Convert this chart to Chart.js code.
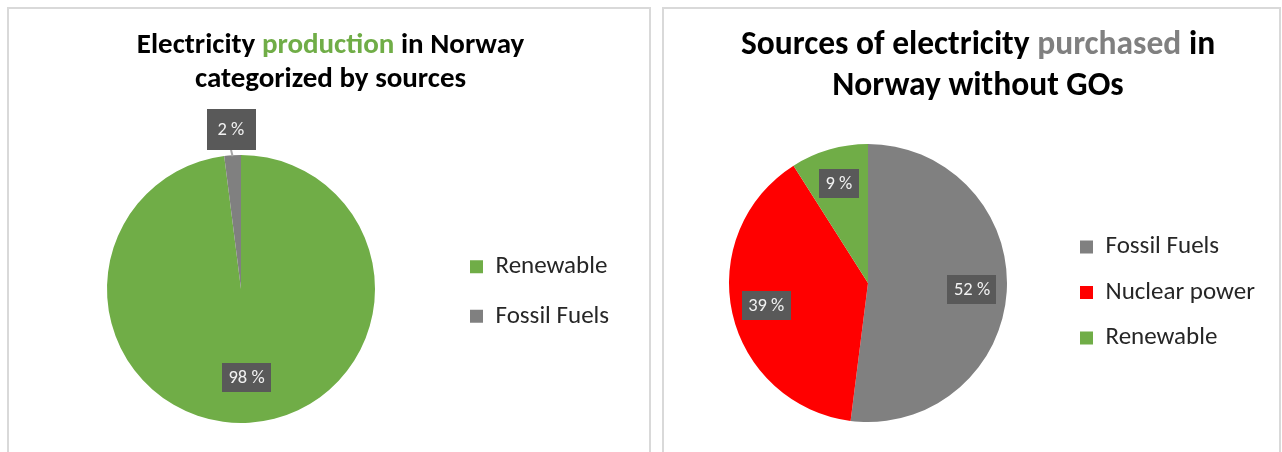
<!DOCTYPE html>
<html><head><meta charset="utf-8">
<script src="https://cdn.jsdelivr.net/npm/chart.js@4.4.1/dist/chart.umd.min.js"></script>
<style>
html,body{margin:0;padding:0;background:#fff;width:1282px;height:452px;overflow:hidden;}
.panel{position:absolute;border:2px solid #d9d9d9;box-sizing:border-box;background:#fff;}
#p1{left:7px;top:7px;width:644px;height:470px;}
#p2{left:662px;top:7px;width:619px;height:470px;}
.title{position:absolute;text-align:center;font-family:Carlito,Lato,'Open Sans',sans-serif;font-weight:bold;color:#000;white-space:nowrap;}
#t1{left:10px;width:641px;top:26px;font-size:29px;line-height:34px;}
#t2{left:670px;width:616px;top:22px;font-size:33.5px;line-height:41px;}
canvas{position:absolute;top:0;}
#c1{left:0;} #c2{left:652px;}
</style></head>
<body>
<div class="panel" id="p1"></div><div class="panel" id="p2"></div>
<canvas id="c1" width="652" height="452"></canvas>
<canvas id="c2" width="630" height="452"></canvas>
<div class="title" id="t1">Electricity <span style="color:#70ad47">production</span> in Norway<br>categorized by sources</div>
<div class="title" id="t2">Sources of electricity <span style="color:#808080">purchased</span> in<br>Norway without GOs</div>
<script>
const FAMILY = "Carlito, Lato, 'Open Sans', sans-serif";

// ---- data ----
const leftCategories = ['Renewable', 'Fossil Fuels'];
const leftValues = [98, 2];
const leftColors = ['#70AD47', '#808080'];

const rightCategories = ['Fossil Fuels', 'Nuclear power', 'Renewable'];
const rightValues = [52, 39, 9];
const rightColors = ['#808080', '#FF0000', '#70AD47'];

const LEGEND_FS = 25;
const BOX = 13;

function textWidth(list, fs) {
  const c = document.createElement('canvas').getContext('2d');
  c.font = fs + 'px ' + FAMILY;
  return Math.max(...list.map(t => c.measureText(t).width));
}

const pieLabels = {
  id: 'pieLabels',
  afterDatasetsDraw(chart, args, opts) {
    const ctx = chart.ctx;
    const meta = chart.getDatasetMeta(0);
    const values = chart.data.datasets[0].data;
    ctx.save();
    ctx.font = opts.fontSize + 'px ' + FAMILY;
    ctx.textAlign = 'center';
    ctx.textBaseline = 'middle';
    meta.data.forEach((arc, i) => {
      const p = arc.getProps(['x', 'y', 'startAngle', 'endAngle', 'outerRadius'], true);
      const mid = (p.startAngle + p.endAngle) / 2;
      const text = values[i] + ' %';
      const tw = ctx.measureText(text).width;
      const outside = values[i] < opts.outsideBelow;
      const bw = tw + 2 * (outside ? opts.padXOut : opts.padX);
      const bh = opts.fontSize + 2 * (outside ? opts.padYOut : opts.padY);
      const d = outside ? p.outerRadius + opts.outsideGap : p.outerRadius * opts.radiusFactor;
      const cx = p.x + Math.cos(mid) * d;
      const cy = p.y + Math.sin(mid) * d;
      if (outside) {
        ctx.strokeStyle = '#a6a6a6';
        ctx.lineWidth = 2;
        ctx.beginPath();
        ctx.moveTo(cx, cy + bh / 2);
        ctx.lineTo(p.x + Math.cos(mid) * p.outerRadius, p.y + Math.sin(mid) * p.outerRadius + 1);
        ctx.stroke();
      }
      ctx.fillStyle = '#595959';
      ctx.fillRect(Math.round(cx - bw / 2), Math.round(cy - bh / 2), Math.round(bw), Math.round(bh));
      ctx.fillStyle = '#f2f2f2';
      ctx.fillText(text, cx, cy + 1);
    });
    ctx.restore();
  }
};

function makePie(id, W, labels, values, colors, g) {
  const itemW = BOX + LEGEND_FS / 2 + textWidth(labels, LEGEND_FS);
  const pad = g.spacing - LEGEND_FS;
  const legendLeft = g.boxX - pad;
  const padL = 2 * g.cx - legendLeft;
  const padR = W - g.boxX - itemW - 10;
  const padT = g.cy - g.r;
  const padB = 452 - (g.cy + g.r);
  return new Chart(document.getElementById(id), {
    type: 'pie',
    data: {
      labels: labels,
      datasets: [{ data: values, backgroundColor: colors, borderWidth: 0 }]
    },
    options: {
      responsive: false,
      animation: false,
      events: [],
      layout: { padding: { left: padL, right: padR, top: padT, bottom: padB } },
      plugins: {
        tooltip: { enabled: false },
        legend: {
          position: 'right',
          title: { display: g.shift > 0, text: ' ', font: { size: g.shift * 2 / 1.2 }, padding: 0 },
          labels: {
            boxWidth: BOX, boxHeight: BOX, padding: pad, color: '#262626',
            font: { size: LEGEND_FS, family: FAMILY }
          }
        },
        pieLabels: {
          fontSize: 18.5, padX: 6.5, padY: 5, padXOut: 11, padYOut: 11,
          radiusFactor: g.factor, outsideBelow: 5, outsideGap: 26
        }
      }
    },
    plugins: [pieLabels]
  });
}

makePie('c1', 652, leftCategories, leftValues, leftColors,
  { cx: 241, cy: 289, r: 134, boxX: 470, spacing: 49.5, shift: 2.5, factor: 0.66 });
makePie('c2', 630, rightCategories, rightValues, rightColors,
  { cx: 216, cy: 283, r: 139, boxX: 428, spacing: 45.5, shift: 9.5, factor: 0.75 });
</script>
</body></html>
